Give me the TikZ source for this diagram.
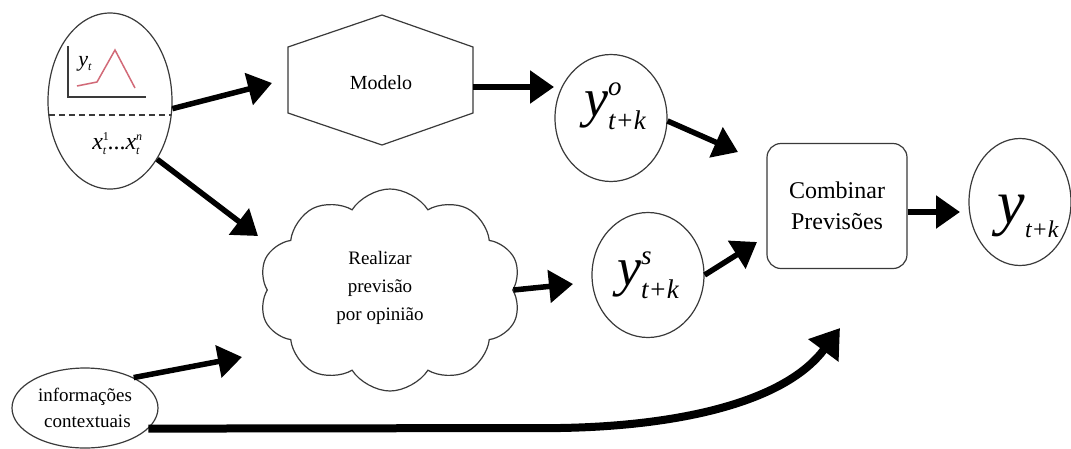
\documentclass[tikz,border=0pt]{standalone}
\usepackage{fontspec}
\setmainfont{Liberation Serif}
\usetikzlibrary{arrows.meta,shapes.geometric,shapes.symbols}
\definecolor{edgegray}{HTML}{3A3A3A}
\definecolor{chartred}{HTML}{D26A78}
\newcommand{\Fs}[1]{\fontsize{#1}{#1}\selectfont}
\newcommand{\ysym}[2]{{\Fs{54}\itshape y}\makebox[0pt][l]{\raisebox{21pt}{\Fs{27}\itshape #1}}\raisebox{-13pt}{\Fs{27}\itshape #2}}
\newcommand{\xsym}[1]{\textit{x}\makebox[0pt][l]{\raisebox{9pt}{\Fs{12}#1}}\raisebox{-5pt}{\Fs{12}\textit{t}}\hspace{1pt}}
\tikzset{
  shp/.style={draw=edgegray, line width=1.2pt, fill=white},
  arr/.style={line width=5.5pt, -{Triangle[length=24pt,width=32pt]}},
  lbl/.style={font=\Fs{19}, align=center}
}
\begin{document}
\begin{tikzpicture}[x=1pt,y=-1pt]
\useasboundingbox (0,0) rectangle (1071,448);

% source ellipse
\node[shp, ellipse, minimum width=124pt, minimum height=176pt, inner sep=0pt] (src) at (110,101) {};
\draw[edgegray, line width=1.2pt, dash pattern=on 6pt off 4pt] (48.8,115) -- (171.2,115);
\draw[edgegray, line width=1.2pt] (68,46) -- (68,97) -- (146,97);
\draw[chartred, line width=1.5pt] (77,86) -- (97,82) -- (115,50) -- (135,88);
\node[font=\Fs{22}, inner sep=0pt] (ytl) at (85,64) {\textit{y}\raisebox{-4pt}{\Fs{12}\textit{t}}};
\node[font=\Fs{24}, inner sep=0pt] (xsl) at (116,144) {\xsym{1}...\xsym{\textit{n}}};

% hexagon
\draw[shp] (288,47) -- (382,15) -- (473,47) -- (473,113) -- (382,145) -- (288,113) -- cycle;
\node[lbl, font=\Fs{20}] (modelo) at (381,83) {Modelo};
\coordinate (hexR) at (473,87);
\coordinate (hexIn) at (554,87);

% forecasts
\node[shp, ellipse, minimum width=112pt, minimum height=127pt, inner sep=0pt] (yo) at (611,118) {};
\node[inner sep=0pt] (yolbl) at (615,106) {\ysym{o}{t+k}};
\node[shp, ellipse, minimum width=112pt, minimum height=125pt, inner sep=0pt] (ys) at (648,275) {};
\node[inner sep=0pt] (yslbl) at (648,275) {\ysym{s}{t+k}};

% combine
\node[shp, rounded corners=14pt, minimum width=140pt, minimum height=125pt, align=center,
      font=\fontsize{24}{31}\selectfont] (comb) at (837,206) {Combinar\\Previsões};
\node[shp, ellipse, minimum width=102pt, minimum height=127pt, inner sep=0pt] (yout) at (1020,202) {};
\node[inner sep=0pt] (youtlbl) at (1028,216) {{\Fs{62}\itshape y}\raisebox{-14pt}{\Fs{24}\itshape t+k}};

% cloud
\node[shp, cloud, cloud puffs=10, cloud puff arc=115, aspect=1.3, minimum width=262pt, minimum height=202pt, inner sep=0pt] (cloud) at (390,290) {};
\node[lbl, font=\fontsize{19}{28}\selectfont] (cloudlbl) at (380,288) {Realizar\\previsão\\por opinião};

% context info
\node[shp, ellipse, minimum width=146pt, minimum height=80pt, inner sep=0pt, align=center,
      font=\fontsize{19}{26}\selectfont] (info) at (85,408) {informações\\ \ contextuais};

% connectors
\coordinate (t1) at (272,83);
\draw[arr] (src.-7) -- (t1);
\coordinate (t2) at (258,236);
\draw[arr] (src.-51) -- (t2);
\draw[arr] (hexR) -- (hexIn);
\coordinate (t3) at (738,152);
\draw[arr] (yo.-3) -- (t3);
\coordinate (t4) at (573,284);
\draw[arr] (cloud.east) -- (t4);
\coordinate (t5) at (757,242);
\draw[arr] (ys.east) -- (t5);
\coordinate (t6) at (960,212);
\draw[arr] (comb.east |- t6) -- (t6);
\coordinate (t7) at (242,357);
\draw[arr] (info.32) -- (t7);
\coordinate (bend) at (560,428);
\coordinate (t8) at (840,328);
\draw[line width=8pt, -{Triangle[length=28pt,width=36pt]}] (info.-18) -- (bend) .. controls (680,426) and (785,402) .. (t8);
\end{tikzpicture}
\end{document}
